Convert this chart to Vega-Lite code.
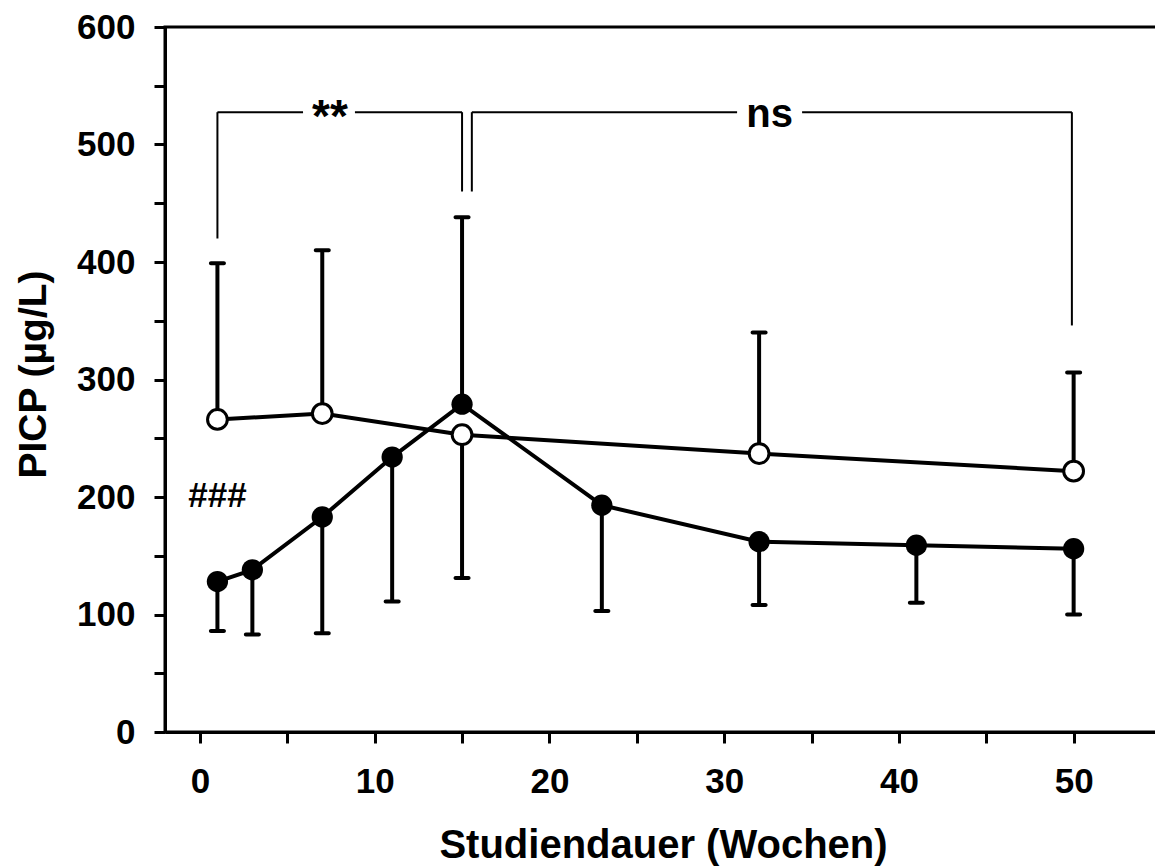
{
  "$schema": "https://vega.github.io/schema/vega-lite/v6.json",
  "autosize": "none",
  "width": 996,
  "height": 705,
  "padding": {"left": 165, "top": 27, "right": 0, "bottom": 135},
  "background": "white",
  "config": {
    "view": {"stroke": "black", "strokeWidth": 3},
    "font": "Liberation Sans",
    "axis": {
      "grid": false,
      "domainColor": "black",
      "domainWidth": 3,
      "tickColor": "black",
      "tickWidth": 3,
      "tickSize": 11,
      "labelColor": "black",
      "labelFont": "Liberation Sans",
      "labelFontWeight": "bold",
      "labelFontSize": 35,
      "titleColor": "black",
      "titleFont": "Liberation Sans",
      "titleFontWeight": "bold"
    }
  },
  "datasets": {
    "pts": [
      {"week": 1, "group": "open", "mean": 266, "err": 399},
      {"week": 7, "group": "open", "mean": 271, "err": 410},
      {"week": 15, "group": "open", "mean": 253, "err": 131},
      {"week": 32, "group": "open", "mean": 237, "err": 340},
      {"week": 50, "group": "open", "mean": 222, "err": 306},
      {"week": 1, "group": "filled", "mean": 128, "err": 86},
      {"week": 3, "group": "filled", "mean": 138, "err": 83},
      {"week": 7, "group": "filled", "mean": 183, "err": 84},
      {"week": 11, "group": "filled", "mean": 234, "err": 111},
      {"week": 15, "group": "filled", "mean": 279, "err": 438},
      {"week": 23, "group": "filled", "mean": 193, "err": 103},
      {"week": 32, "group": "filled", "mean": 162, "err": 108},
      {"week": 41, "group": "filled", "mean": 159, "err": 110},
      {"week": 50, "group": "filled", "mean": 156, "err": 100}
    ],
    "brackets": [
      {"x": 1, "x2": 1, "y": 420, "y2": 527.5},
      {"x": 1, "x2": 5.9, "y": 527.5, "y2": 527.5},
      {"x": 8.87, "x2": 15, "y": 527.5, "y2": 527.5},
      {"x": 15, "x2": 15, "y": 460, "y2": 527.5},
      {"x": 15.56, "x2": 15.56, "y": 460, "y2": 527.5},
      {"x": 15.56, "x2": 30.74, "y": 527.5, "y2": 527.5},
      {"x": 34.46, "x2": 49.9, "y": 527.5, "y2": 527.5},
      {"x": 49.9, "x2": 49.9, "y": 346, "y2": 527.5}
    ],
    "stars": [
      {"text": "**", "x": 7.44, "y": 511}
    ],
    "labels": [
      {"text": "ns", "x": 32.6, "y": 515}
    ],
    "hash": [
      {"text": "###", "x": 1.0, "y": 191.5}
    ]
  },
  "layer": [
    {
      "data": {"name": "pts"},
      "mark": {"type": "line", "color": "black", "strokeWidth": 4},
      "encoding": {
        "x": {
          "field": "week", "type": "quantitative",
          "scale": {"domain": [-2, 55], "nice": false, "zero": false},
          "axis": {
            "values": [0, 5, 10, 15, 20, 25, 30, 35, 40, 45, 50],
            "labelExpr": "datum.value % 10 === 0 ? datum.label : ''",
            "labelBaseline": "top",
            "labelPadding": 21,
            "title": "Studiendauer (Wochen)",
            "titleFontSize": 40,
            "titleBaseline": "alphabetic",
            "titleY": 125
          }
        },
        "y": {
          "field": "mean", "type": "quantitative",
          "scale": {"domain": [0, 600], "nice": false},
          "axis": {
            "values": [0, 50, 100, 150, 200, 250, 300, 350, 400, 450, 500, 550, 600],
            "labelExpr": "datum.value % 100 === 0 ? datum.label : ''",
            "labelPadding": 19,
            "title": "PICP (µg/L)",
            "titleFontSize": 39,
            "titleAngle": -90,
            "titleAlign": "center",
            "titleBaseline": "alphabetic",
            "titleX": -120,
            "titleY": 347
          }
        },
        "detail": {"field": "group"}
      }
    },
    {
      "data": {"name": "pts"},
      "mark": {"type": "rule", "color": "black", "strokeWidth": 4},
      "encoding": {
        "x": {"field": "week", "type": "quantitative"},
        "y": {"field": "mean", "type": "quantitative"},
        "y2": {"field": "err"}
      }
    },
    {
      "data": {"name": "pts"},
      "mark": {"type": "tick", "orient": "horizontal", "color": "black", "size": 17, "thickness": 4, "cornerRadius": 2, "opacity": 1},
      "encoding": {
        "x": {"field": "week", "type": "quantitative"},
        "y": {"field": "err", "type": "quantitative"}
      }
    },
    {
      "data": {"name": "brackets"},
      "mark": {"type": "rule", "color": "black", "strokeWidth": 2},
      "encoding": {
        "x": {"field": "x", "type": "quantitative"},
        "x2": {"field": "x2"},
        "y": {"field": "y", "type": "quantitative"},
        "y2": {"field": "y2"}
      }
    },
    {
      "data": {"name": "pts"},
      "transform": [{"filter": "datum.group === 'filled'"}],
      "mark": {"type": "point", "shape": "circle", "filled": true, "color": "black", "size": 452, "opacity": 1},
      "encoding": {
        "x": {"field": "week", "type": "quantitative"},
        "y": {"field": "mean", "type": "quantitative"}
      }
    },
    {
      "data": {"name": "pts"},
      "transform": [{"filter": "datum.group === 'open'"}],
      "mark": {"type": "point", "shape": "circle", "filled": true, "fill": "white", "stroke": "black", "strokeWidth": 3, "size": 390, "opacity": 1, "fillOpacity": 1, "strokeOpacity": 1},
      "encoding": {
        "x": {"field": "week", "type": "quantitative"},
        "y": {"field": "mean", "type": "quantitative"}
      }
    },
    {
      "data": {"name": "stars"},
      "mark": {"type": "text", "font": "Liberation Sans", "fontWeight": "bold", "fontSize": 46, "color": "black", "align": "center", "baseline": "alphabetic"},
      "encoding": {
        "x": {"field": "x", "type": "quantitative"},
        "y": {"field": "y", "type": "quantitative"},
        "text": {"field": "text"}
      }
    },
    {
      "data": {"name": "labels"},
      "mark": {"type": "text", "font": "Liberation Sans", "fontWeight": "bold", "fontSize": 40, "color": "black", "align": "center", "baseline": "alphabetic"},
      "encoding": {
        "x": {"field": "x", "type": "quantitative"},
        "y": {"field": "y", "type": "quantitative"},
        "text": {"field": "text"}
      }
    },
    {
      "data": {"name": "hash"},
      "mark": {"type": "text", "font": "Liberation Sans", "fontWeight": "bold", "fontSize": 35, "color": "black", "align": "center", "baseline": "alphabetic"},
      "encoding": {
        "x": {"field": "x", "type": "quantitative"},
        "y": {"field": "y", "type": "quantitative"},
        "text": {"field": "text"}
      }
    }
  ]
}
